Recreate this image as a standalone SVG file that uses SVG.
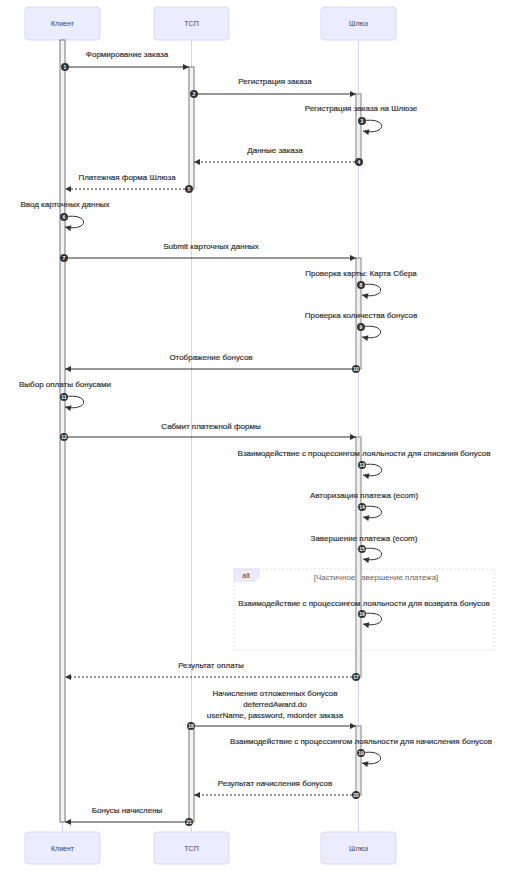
<svg xmlns="http://www.w3.org/2000/svg" width="527" height="885" viewBox="0 0 527 885">
<defs>
<style>
text{font-family:"Liberation Sans",Arial,sans-serif}
.actor rect{fill:#ECECFF;stroke:#dcd6f7;stroke-width:1}
.actor text{font-size:7px;fill:#444;text-anchor:middle}
.life{stroke:#d9d3f7;stroke-width:1}
.act{fill:#f4f4f4;stroke:#777;stroke-width:1}
.act2{fill:#eeeeee;stroke:#aaaaaa;stroke-width:1.5}
.msg{stroke:#333;stroke-width:1;fill:none;marker-end:url(#arr)}
.dash{stroke-dasharray:2 2}
.thick{stroke:#777;stroke-width:1.6}
.lbl{font-size:8px;fill:#333;stroke:#333;stroke-width:0.2;text-anchor:middle}
.num circle{fill:#333}
.num text{font-size:5px;font-weight:bold;fill:#fff;text-anchor:middle}
.altbox{fill:none;stroke:#dcdcea;stroke-width:1;stroke-dasharray:2 2}
.alttab{fill:#ECECFF;stroke:#dcd6f7;stroke-width:0.8}
.alttxt{font-size:7.5px;fill:#444;text-anchor:middle}
.cond{font-size:8px;fill:#666;text-anchor:middle}
</style>
<marker id="arr" viewBox="0 0 10 10" refX="10" refY="5" markerUnits="userSpaceOnUse" markerWidth="7" markerHeight="6" orient="auto">
<path d="M0,0 L10,5 L0,10 z" fill="#333"/>
</marker>
</defs>
<rect width="527" height="885" fill="#fff"/>

<g id="lifelines">
<line class="life" x1="62.5" y1="40" x2="62.5" y2="832"/>
<line class="life" x1="191.5" y1="40" x2="191.5" y2="832"/>
<line class="life" x1="358.5" y1="40" x2="358.5" y2="832"/>
</g>

<g id="actor-client-top" class="actor"><rect x="25" y="7" width="75" height="33" rx="3"/><text x="62.5" y="26">Клиент</text></g>
<g id="actor-tsp-top" class="actor"><rect x="154" y="7" width="75" height="33" rx="3"/><text x="191.5" y="26">ТСП</text></g>
<g id="actor-gw-top" class="actor"><rect x="321" y="7" width="75" height="33" rx="3"/><text x="358.5" y="26">Шлюз</text></g>
<g id="actor-client-bottom" class="actor"><rect x="25" y="832" width="75" height="32" rx="3"/><text x="62.5" y="851">Клиент</text></g>
<g id="actor-tsp-bottom" class="actor"><rect x="154" y="832" width="75" height="32" rx="3"/><text x="191.5" y="851">ТСП</text></g>
<g id="actor-gw-bottom" class="actor"><rect x="321" y="832" width="75" height="32" rx="3"/><text x="358.5" y="851">Шлюз</text></g>

<g id="alt-block">
<rect class="altbox" x="234" y="569" width="260" height="81"/>
<polygon class="alttab" points="234,569 259,569 259,577 255,581 234,581"/>
<text class="alttxt" x="246" y="578">alt</text>
<text class="cond" x="376" y="580">[Частичное завершение платежа]</text>
</g>

<g id="activations">
<rect class="act" x="60" y="40" width="5" height="782"/>
<rect class="act" x="189" y="67" width="5" height="122"/>
<rect class="act" x="189" y="726" width="5" height="96"/>
<rect class="act2" x="356" y="94" width="5" height="68"/>
<rect class="act2" x="356" y="258" width="5" height="111"/>
<rect class="act2" x="356" y="437" width="5" height="240"/>
<rect class="act2" x="356" y="726" width="5" height="69"/>
</g>

<g id="connectors">
<line class="msg" x1="65" y1="67" x2="189" y2="67"/>
<line class="msg" x1="194" y1="94" x2="356" y2="94"/>
<path class="msg" d="M362,121 C388,116 388,136 363,131"/>
<line class="msg dash" x1="359" y1="162" x2="194" y2="162"/>
<line class="msg dash" x1="189" y1="189" x2="65" y2="189"/>
<path class="msg" d="M64,217 C90,212 90,232 65,227"/>
<line class="msg" x1="64" y1="258" x2="356" y2="258"/>
<path class="msg" d="M361,285 C387,280 387,300 362,295"/>
<path class="msg" d="M361,327 C387,322 387,342 362,337"/>
<line class="msg" x1="356" y1="369" x2="65" y2="369"/>
<path class="msg" d="M64,397 C90,392 90,412 65,407"/>
<line class="msg" x1="64" y1="437" x2="356" y2="437"/>
<path class="msg" d="M362,465 C388,460 388,480 363,475"/>
<path class="msg" d="M362,507 C388,502 388,522 363,517"/>
<path class="msg" d="M362,549 C388,544 388,564 363,559"/>
<path class="msg" d="M362,614 C388,609 388,629 363,624"/>
<line class="msg dash" x1="356" y1="677" x2="65" y2="677"/>
<line class="msg thick" x1="191" y1="726" x2="356" y2="726"/>
<path class="msg" d="M361,753 C387,748 387,768 362,763"/>
<line class="msg dash" x1="356" y1="795" x2="194" y2="795"/>
<line class="msg thick" x1="189" y1="822" x2="65" y2="822"/>
</g>

<g id="numbers" class="num">
<circle cx="65" cy="67" r="4"/><text x="65" y="68.8">1</text>
<circle cx="194" cy="94" r="4"/><text x="194" y="95.8">2</text>
<circle cx="362" cy="121" r="4"/><text x="362" y="122.8">3</text>
<circle cx="359" cy="162" r="4"/><text x="359" y="163.8">4</text>
<circle cx="189" cy="189" r="4"/><text x="189" y="190.8">5</text>
<circle cx="64" cy="217" r="4"/><text x="64" y="218.8">6</text>
<circle cx="64" cy="258" r="4"/><text x="64" y="259.8">7</text>
<circle cx="361" cy="285" r="4"/><text x="361" y="286.8">8</text>
<circle cx="361" cy="327" r="4"/><text x="361" y="328.8">9</text>
<circle cx="356" cy="369" r="4"/><text x="356" y="370.8">10</text>
<circle cx="64" cy="397" r="4"/><text x="64" y="398.8">11</text>
<circle cx="64" cy="437" r="4"/><text x="64" y="438.8">12</text>
<circle cx="362" cy="465" r="4"/><text x="362" y="466.8">13</text>
<circle cx="362" cy="507" r="4"/><text x="362" y="508.8">14</text>
<circle cx="362" cy="549" r="4"/><text x="362" y="550.8">15</text>
<circle cx="362" cy="614" r="4"/><text x="362" y="615.8">16</text>
<circle cx="356" cy="677" r="4"/><text x="356" y="678.8">17</text>
<circle cx="191" cy="726" r="4"/><text x="191" y="727.8">18</text>
<circle cx="361" cy="753" r="4"/><text x="361" y="754.8">19</text>
<circle cx="356" cy="795" r="4"/><text x="356" y="796.8">20</text>
<circle cx="189" cy="822" r="4"/><text x="189" y="823.8">21</text>
</g>

<g id="labels">
<text class="lbl" x="127" y="57">Формирование заказа</text>
<text class="lbl" x="275" y="84">Регистрация заказа</text>
<text class="lbl" x="361" y="111">Регистрация заказа на Шлюзе</text>
<text class="lbl" x="275" y="153">Данные заказа</text>
<text class="lbl" x="127" y="180">Платежная форма Шлюза</text>
<text class="lbl" x="65" y="207">Ввод карточных данных</text>
<text class="lbl" x="211" y="249">Submit карточных данных</text>
<text class="lbl" x="361" y="276">Проверка карты: Карта Сбера</text>
<text class="lbl" x="361" y="318">Проверка количества бонусов</text>
<text class="lbl" x="211" y="360">Отображение бонусов</text>
<text class="lbl" x="65" y="387">Выбор оплаты бонусами</text>
<text class="lbl" x="211" y="429">Сабмит платежной формы</text>
<text class="lbl" x="364" y="456">Взаимодействие с процессингом лояльности для списания бонусов</text>
<text class="lbl" x="364" y="498">Авторизация платежа (ecom)</text>
<text class="lbl" x="364" y="541">Завершение платежа (ecom)</text>
<text class="lbl" x="364" y="606">Взаимодействие с процессингом лояльности для возврата бонусов</text>
<text class="lbl" x="211" y="668">Результат оплаты</text>
<text class="lbl" x="275" y="695.5">Начисление отложенных бонусов</text>
<text class="lbl" x="275" y="706.5">deferredAward.do</text>
<text class="lbl" x="275" y="717.5">userName, password, mdorder заказа</text>
<text class="lbl" x="361" y="744">Взаимодействие с процессингом лояльности для начисления бонусов</text>
<text class="lbl" x="275" y="786">Результат начисления бонусов</text>
<text class="lbl" x="127" y="813">Бонусы начислены</text>
</g>
</svg>
